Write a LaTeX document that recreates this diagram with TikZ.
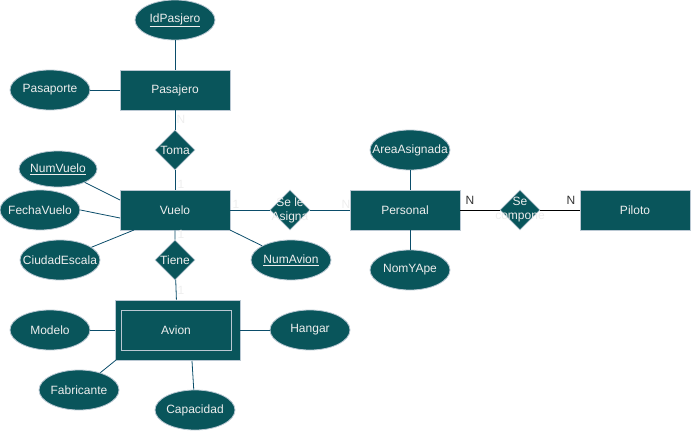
\documentclass[tikz,border=0pt]{standalone}
\usepackage{fontspec}
\setmainfont{Liberation Sans}
\usetikzlibrary{shapes.geometric}
\definecolor{tealfill}{HTML}{09555B}
\definecolor{tealborder}{HTML}{BAC8D3}
\definecolor{tealtext}{HTML}{EEEEEE}
\definecolor{edgecol}{HTML}{0B4D6A}
\definecolor{cardgray}{HTML}{333333}
\tikzset{
  lbl/.style={text=tealtext, font=\fontsize{12}{14}\selectfont, inner sep=0pt, align=center},
  entity/.style={draw=tealborder, fill=tealfill, line width=0.8pt, minimum width=110pt, minimum height=40pt, inner sep=0pt},
  attrib/.style={ellipse, draw=tealborder, fill=tealfill, line width=0.8pt, minimum width=80pt, minimum height=40pt, inner sep=0pt},
  relation/.style={diamond, draw=tealborder, fill=tealfill, line width=0.8pt, minimum width=40pt, minimum height=40pt, inner sep=0pt},
  conn/.style={draw=edgecol, line width=0.8pt},
  connb/.style={draw=black, line width=0.8pt},
  card/.style={text=tealtext, font=\fontsize{12}{14}\selectfont, inner sep=0pt},
  cardd/.style={text=cardgray, font=\fontsize{12}{14}\selectfont, inner sep=0pt},
}
\begin{document}
\begin{tikzpicture}[x=1pt,y=-1pt]
\useasboundingbox (0,0) rectangle (691,431);
% entities
\node[entity, label={[lbl]center:Pasajero}] (pas) at (175,90) {};
\node[entity, label={[lbl]center:Vuelo}] (vue) at (175,210) {};
\node[entity, label={[lbl]center:Personal}] (per) at (405,210) {};
\node[entity, label={[lbl]center:Piloto}] (pil) at (635,210) {};
\node[entity, minimum width=125pt, minimum height=60pt] (avi) at (177.5,330) {};
\node[draw=tealborder, line width=0.8pt, minimum width=110pt, minimum height=40pt, inner sep=0pt, label={[lbl]center:Avion}] (avin) at (176,330.5) {};
% attributes
\node[attrib, label={[lbl]center:\underline{IdPasjero}}] (idp) at (175,20) {};
\node[attrib, label={[lbl]center:Pasaporte}] (pasp) at (50,90) {};
\node[attrib, minimum width=78pt, minimum height=36pt, label={[lbl]center:\underline{NumVuelo}}] (numv) at (58,169) {};
\node[attrib, label={[lbl]center:FechaVuelo}] (fec) at (40,210) {};
\node[attrib, label={[lbl]center:CiudadEscala}] (ciu) at (60,260) {};
\node[attrib, label={[lbl]center:\underline{NumAvion}}] (numa) at (291,260) {};
\node[attrib, label={[lbl]center:AreaAsignada}] (area) at (410,150) {};
\node[attrib, label={[lbl]center:NomYApe}] (nom) at (410,270) {};
\node[attrib, label={[lbl]center:Modelo}] (mod) at (50,330) {};
\node[attrib, label={[lbl]center:Hangar}] (han) at (310,330) {};
\node[attrib, label={[lbl]center:Fabricante}] (fab) at (79,390) {};
\node[attrib, label={[lbl]center:Capacidad}] (cap) at (195,410) {};
% relations
\node[relation, label={[lbl]center:Toma}] (toma) at (175,150) {};
\node[relation, label={[lbl]center:Tiene}] (tiene) at (175,260) {};
\node[relation] (asig) at (290,210) {};
\node[lbl] (asigt) at (asig) {Se le\\Asigna};
\node[relation] (comp) at (520,210) {};
\node[lbl] (compt) at (comp) {Se\\compone};
% attribute connectors
\coordinate (vnw) at (120,200);
\coordinate (vfe) at (120,218);
\coordinate (vsw) at (134,230);
\coordinate (vse) at (230,230);
\coordinate (asw) at (116,360);
\coordinate (acap) at (192,361);
\path[conn] (idp) -- (pas);
\path[conn] (pasp) -- (pas);
\path[conn] (fec.east) -- (vfe);
\path[conn] (numv) -- (vnw);
\path[conn] (ciu) -- (vsw);
\path[conn] (numa) -- (vse);
\path[conn] (area) -- (per.north -| area);
\path[conn] (nom) -- (per.south -| nom);
\path[conn] (mod) -- (avi);
\path[conn] (han) -- (avi);
\path[conn] (fab) -- (asw);
\path[conn] (cap) -- (acap);
% relation connectors
\path[conn] (pas) -- (toma) -- (vue);
\path[conn] (vue) -- (tiene) -- (avi);
\path[conn] (vue) -- (asig) -- (per);
\path[connb] (per) -- (comp) -- (pil);
% cardinalities
\node[card] (c1) at (181,119) {N};
\node[card] (c2) at (181,184) {1};
\node[card] (c3) at (181,234) {1};
\node[card] (c4) at (181,290) {1};
\node[card] (c5) at (236,204) {1};
\node[card] (c6) at (346,204) {N};
\node[cardd] (c7) at (470,200) {N};
\node[cardd] (c8) at (571,200) {N};
\end{tikzpicture}
\end{document}
